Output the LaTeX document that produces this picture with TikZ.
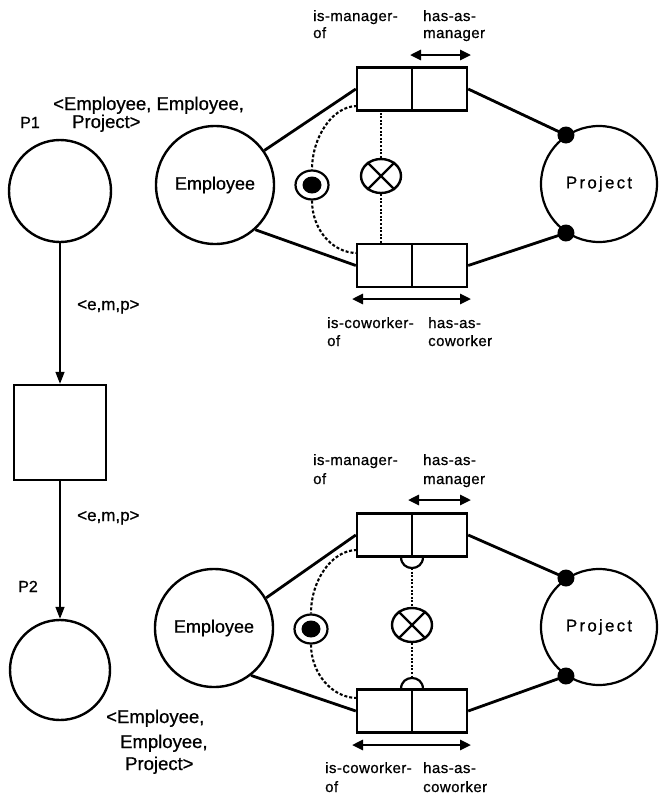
\documentclass[tikz,border=0pt]{standalone}
\usepackage{fontspec}
\setmainfont[FakeBold=0.7,AutoFakeBold=0.7]{Liberation Sans}
\newfontfamily\plainfont[FakeBold=0.7]{Liberation Sans}
\newfontfamily\spacedfont[LetterSpace=13,FakeBold=0.7]{Liberation Sans}
\newfontfamily\relfont[LetterSpace=3,FakeBold=0.7]{Liberation Sans}
\usetikzlibrary{arrows.meta,calc,shapes.geometric}
\begin{document}
\begin{tikzpicture}[x=1pt,y=-1pt,
  place/.style={circle,draw,line width=2.4pt,inner sep=0pt},
  ent/.style={circle,draw,line width=2.4pt,minimum size=118pt,inner sep=0pt,font=\plainfont\fontsize{18}{20}\selectfont},
  projn/.style={circle,draw,line width=2.2pt,minimum size=116pt,inner sep=0pt,font=\spacedfont\fontsize{17}{20}\selectfont},
  rel/.style={rectangle,draw,line width=2.4pt,minimum width=55pt,minimum height=43pt,inner sep=0pt},
  link/.style={line width=2.8pt},
  blob/.style={circle,fill,inner sep=0pt,minimum size=17pt},
  ringn/.style={ellipse,draw,line width=2.2pt,minimum width=33pt,minimum height=29pt,inner sep=0pt,
     path picture={\fill (path picture bounding box.center) ellipse [x radius=9.5pt,y radius=8.5pt];}},
  xn/.style={ellipse,draw,line width=2.4pt,minimum width=40pt,minimum height=34pt,inner sep=0pt},
  rdash/.style={line width=2.1pt,dash pattern=on 3pt off 2pt},
  rdot/.style={line width=2.3pt,dash pattern=on 2pt off 1.6pt},
  lab/.style={font=\relfont\fontsize{15}{17}\selectfont,anchor=base west,inner sep=0pt},
  big/.style={font=\plainfont\fontsize{18.5}{20}\selectfont,anchor=base west,inner sep=0pt},
  small/.style={font=\plainfont\fontsize{17}{19}\selectfont,anchor=base west,inner sep=0pt},
  plab/.style={font=\plainfont\fontsize{16}{18}\selectfont,anchor=base west,inner sep=0pt},
  parc/.style={line width=1.5pt,-{Triangle[length=12pt,width=9pt]}},
  dblarrow/.style={line width=2.6pt,{Triangle[length=11pt,width=10pt]}-{Triangle[length=11pt,width=10pt]}}
]
\useasboundingbox (0,0) rectangle (662,804);

% ---------------- Petri net (left) ----------------
\node[place,minimum size=102pt] (p1) at (60,191) {};
\node[plab] (p1l) at (20,128) {P1};
\node[big] (t1a) at (53,110) {<Employee, Employee,};
\node[big] (t1b) at (72,128) {Project>};
\node[rectangle,draw,line width=2.4pt,minimum width=92pt,minimum height=95pt,inner sep=0pt] (tr) at (60,432.5) {};
\node[place,minimum size=100pt] (p2) at (60,670) {};
\node[plab] (p2l) at (18,592) {P2};
\draw[parc] (p1.south) -- (tr.north);
\draw[parc] (tr.south) -- (p2.north);
\node[small] (e1) at (77,310) {<e,m,p>};
\node[small] (e2) at (77,521) {<e,m,p>};
\node[big] (t2a) at (106,723) {<Employee,};
\node[big] (t2b) at (120,748) {Employee,};
\node[big] (t2c) at (125,770) {Project>};

% ---------------- Upper ORM diagram ----------------
\node[ent] (emp1) at (215,185) {Employee};
\node[projn] (proj1) at (599,184) {Project};
\node[rel] (ma1) at (384.5,89) {};
\node[rel] (mb1) at (439.5,89) {};
\node[rel] (ca1) at (384.5,265.5) {};
\node[rel] (cb1) at (439.5,265.5) {};
\node[blob] (d1) at (proj1.124) {};
\node[blob] (d2) at (proj1.236) {};
\draw[link] (emp1.35) -- (ma1.west);
\draw[link] (emp1.-48) -- (ca1.west);
\draw[link] (mb1.east) -- (d1.center);
\draw[link] (cb1.east) -- (d2.center);
\coordinate (am1) at (410,55); \coordinate (am2) at (471,55);
\draw[dblarrow] (am1) -- (am2);
\coordinate (ac1) at (352,299); \coordinate (ac2) at (471,299);
\draw[dblarrow] (ac1) -- (ac2);
\node[lab] (l1) at (313,21) {is-manager-};
\node[lab] (l2) at (313,38) {of};
\node[lab] (l3) at (423,21) {has-as-};
\node[lab] (l4) at (423,38) {manager};
\node[lab] (l5) at (327,328) {is-coworker-};
\node[lab] (l6) at (327,346) {of};
\node[lab] (l7) at (428,328) {has-as-};
\node[lab] (l8) at (428,346) {coworker};
\node[ringn] (rg1) at (312,185) {};
\node[xn] (x1) at (381,176) {};
\draw[line width=2.4pt] (x1.45) -- (x1.225) (x1.135) -- (x1.315);
\coordinate (dt1) at (357,106);
\coordinate (db1) at (357,253);
\draw[rdash] (dt1) .. controls (332,106) and (312,138) .. (rg1.north);
\draw[rdash] (rg1.south) .. controls (312,229) and (332,253) .. (db1);
\draw[rdot] (x1.north) -- (x1.north |- ma1.south);
\draw[rdot] (x1.south) -- (x1.south |- ca1.north);

% ---------------- Lower ORM diagram ----------------
\node[ent] (emp2) at (214,628) {Employee};
\node[projn] (proj2) at (599,627) {Project};
\node[rel] (ma2) at (384.5,535) {};
\node[rel] (mb2) at (439.5,535) {};
\node[rel] (ca2) at (384.5,711) {};
\node[rel] (cb2) at (439.5,711) {};
\node[blob] (d3) at (proj2.124) {};
\node[blob] (d4) at (proj2.236) {};
\draw[link] (emp2.30) -- (ma2.west);
\draw[link] (emp2.-52) -- (ca2.west);
\draw[link] (mb2.east) -- (d3.center);
\draw[link] (cb2.east) -- (d4.center);
\coordinate (bm1) at (408,500); \coordinate (bm2) at (471,500);
\draw[dblarrow] (bm1) -- (bm2);
\coordinate (bc1) at (352,745); \coordinate (bc2) at (471,745);
\draw[dblarrow] (bc1) -- (bc2);
\node[lab] (m1) at (313,465) {is-manager-};
\node[lab] (m2) at (313,484) {of};
\node[lab] (m3) at (423,465) {has-as-};
\node[lab] (m4) at (423,484) {manager};
\node[lab] (m5) at (325,773) {is-coworker-};
\node[lab] (m6) at (325,792) {of};
\node[lab] (m7) at (423,773) {has-as-};
\node[lab] (m8) at (423,792) {coworker};
\node[ringn] (rg2) at (311,629) {};
\node[xn] (x2) at (412,625) {};
\draw[line width=2.4pt] (x2.45) -- (x2.225) (x2.135) -- (x2.315);
\draw[line width=2.2pt] (401,557) .. controls (401,571.7) and (423,571.7) .. (423,557);
\draw[line width=2.2pt] (401,689) .. controls (401,674.3) and (423,674.3) .. (423,689);
\coordinate (s1) at (412,568);
\coordinate (s2) at (412,678);
\draw[rdot] (s1) -- (x2.north);
\draw[rdot] (x2.south) -- (s2);
\coordinate (dt2) at (357,550);
\coordinate (db2) at (357,698);
\draw[rdash] (dt2) .. controls (332,550) and (311,580) .. (rg2.north);
\draw[rdash] (rg2.south) .. controls (311,673) and (332,698) .. (db2);
\end{tikzpicture}
\end{document}
